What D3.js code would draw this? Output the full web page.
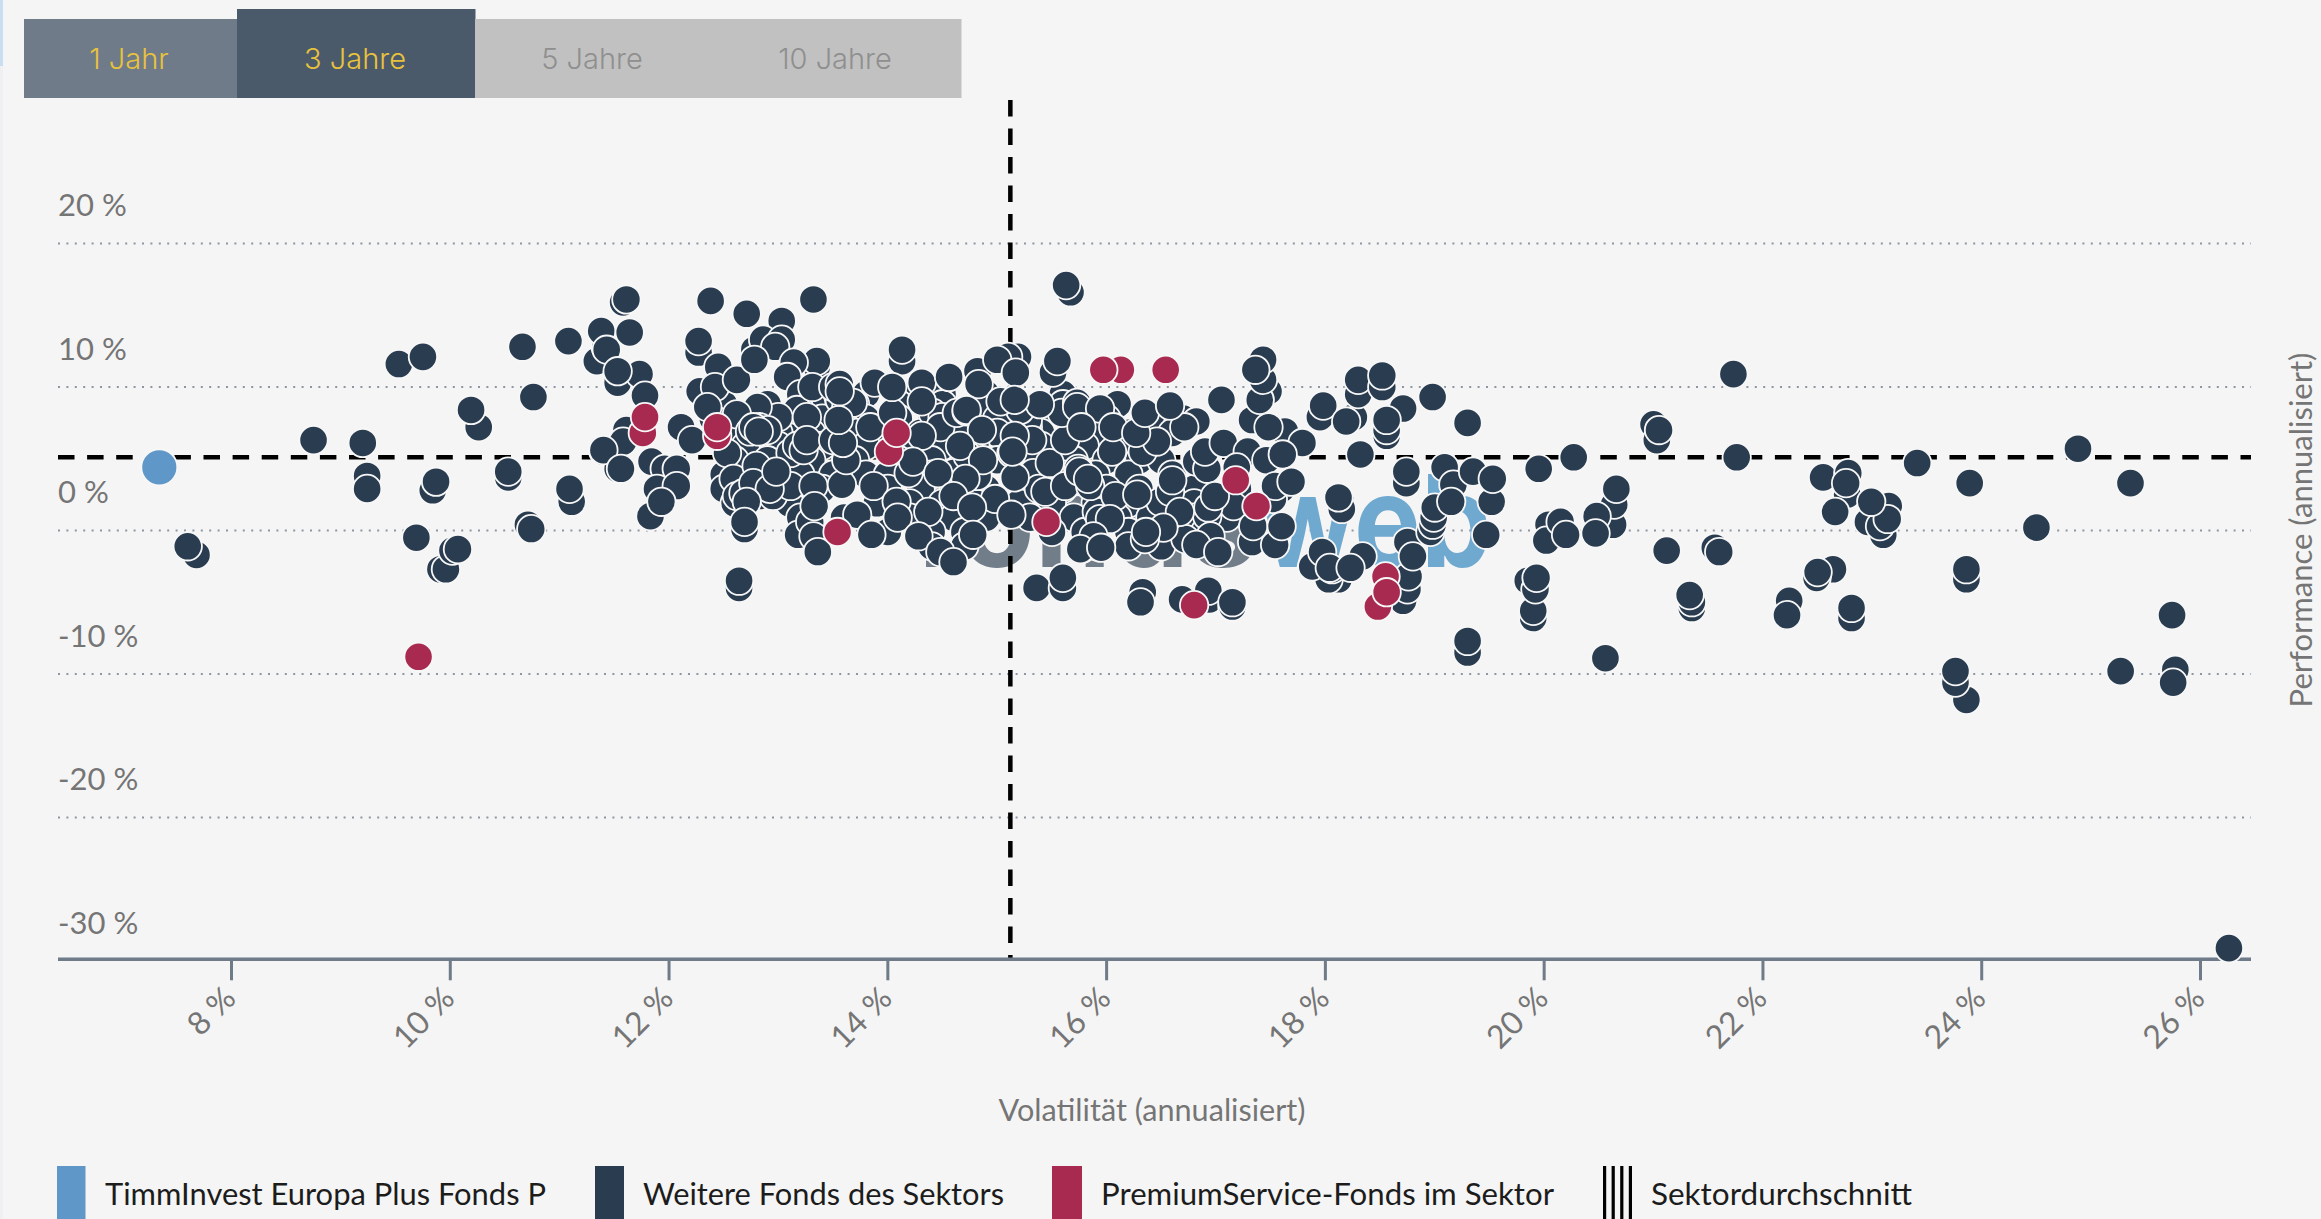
<!DOCTYPE html>
<html><head><meta charset="utf-8">
<script src="https://cdn.jsdelivr.net/npm/d3@7/dist/d3.min.js"></script>
<style>html,body{margin:0;padding:0;background:#f5f5f5;overflow:hidden}svg{display:block}</style>
</head><body>
<svg id="c" width="2321" height="1219"></svg>
<script>
const tabLabels = ["1 Jahr","3 Jahre","5 Jahre","10 Jahre"];
const yTicks = [20,10,0,-10,-20,-30];
const xTicks = [8,10,12,14,16,18,20,22,24,26];
const sectorVol = 15.12;
const sectorPerf = 5.1;
const legendLabels = ["TimmInvest Europa Plus Fonds P","Weitere Fonds des Sektors","PremiumService-Fonds im Sektor","Sektordurchschnitt"];
const thisFund = [[7.34,4.4]];
// funds hidden inside the dense centre of the cloud, drawn first
const denseFunds = [
[13.4,9.5],[13.8,9.5],[14.1,9.5],[14.5,9.5],[14.9,9.5],[15.6,9.5],
[12.5,8.8],[12.9,8.8],[13.3,8.8],[13.7,8.8],[14.1,8.8],[14.5,8.8],[14.9,8.8],[15.2,8.8],[15.6,8.8],[16.1,8.8],
[12.4,7.8],[12.8,7.8],[13.1,7.8],[13.4,7.8],[13.8,7.8],[14.1,7.8],[14.4,7.8],[14.7,7.8],[15.0,7.8],[15.4,7.8],[15.7,7.8],[16.0,7.8],[16.4,7.8],[16.7,7.8],
[12.6,6.8],[13.0,6.8],[13.3,6.8],[13.7,6.8],[14.0,6.8],[14.3,6.8],[14.7,6.8],[15.0,6.8],[15.4,6.8],[15.9,6.8],[16.2,6.8],[16.6,6.8],
[12.7,5.9],[13.0,5.9],[13.4,5.9],[13.8,5.9],[14.1,5.9],[14.5,5.9],[14.8,5.9],[15.4,5.9],[15.8,5.9],[16.1,5.9],[16.4,5.9],
[12.6,4.9],[12.9,4.9],[13.3,4.9],[13.7,4.9],[14.1,4.9],[14.4,4.9],[14.7,4.9],[15.0,4.9],[15.3,4.9],[15.7,4.9],[16.0,4.9],[16.3,4.9],[16.5,4.9],
[12.5,3.9],[12.9,3.9],[13.2,3.9],[13.5,3.9],[13.8,3.9],[14.0,3.9],[14.4,3.9],[14.8,3.9],[15.2,3.9],[15.6,3.9],[15.9,3.9],[16.2,3.9],[16.6,3.9],
[12.5,2.9],[13.0,2.9],[13.4,2.9],[14.0,2.9],[14.3,2.9],[14.6,2.9],[14.9,2.9],[15.3,2.9],[15.6,2.9],[16.0,2.9],[16.3,2.9],[16.8,2.9],[17.2,2.9],[17.6,2.9],
[12.6,1.9],[13.1,1.9],[13.9,1.9],[14.2,1.9],[14.5,1.9],[14.8,1.9],[15.2,1.9],[15.5,1.9],[15.9,1.9],[16.2,1.9],[16.5,1.9],[16.8,1.9],
[13.2,0.9],[13.6,0.9],[14.2,0.9],[14.6,0.9],[14.9,0.9],[15.3,0.9],[15.7,0.9],[16.1,0.9],[16.4,0.9],[16.8,0.9],[17.1,0.9],
[14.0,-0.1],[14.4,-0.1],[14.7,-0.1],[15.8,-0.1],[16.2,-0.1],[16.5,-0.1],[16.9,-0.1],
[14.4,-1.1],[14.7,-1.1],[16.2,-1.1],[16.5,-1.1]
];
const otherFunds = [
[7.68,-1.7],[7.60,-1.1],[8.75,6.3],[9.20,6.1],[9.24,3.8],[9.24,2.9],[9.53,11.6],[9.75,12.1],[9.69,-0.5],[9.84,2.8],[9.87,3.4],[9.91,-2.7],[9.96,-2.7],[10.02,-1.4],[10.07,-1.3],[10.26,7.2],[10.19,8.4],[10.53,3.7],[10.53,4.1],[10.66,12.8],[10.76,9.3],[10.71,0.4],[10.74,0.1],[11.11,2.0],[11.09,2.9],[11.08,13.2],[11.34,11.8],[11.42,12.8],[11.38,13.9],[11.53,10.4],[11.53,10.9],[11.40,5.5],[11.53,4.3],[11.58,15.9],
[11.61,16.1],[12.38,16.0],[13.32,16.1],[12.71,15.1],[13.03,14.6],[11.64,13.8],[11.43,12.6],[12.27,12.4],[12.27,13.2],[12.78,12.6],[12.86,13.3],[13.03,13.3],[12.97,12.8],[13.35,11.4],[13.35,11.8],[11.53,10.3],[11.73,10.9],[11.53,11.1],[11.78,9.4],[12.45,11.4],[12.28,9.7],[12.42,10.0],[12.62,10.5],[12.35,8.6],[13.14,11.7],[13.08,10.7],[12.78,11.9],[13.20,9.5],[13.17,8.4],[13.00,7.9],[12.81,8.6],[12.62,8.1],[12.11,7.2],[12.21,6.3],[11.61,7.0],[11.58,6.2],[11.40,5.6],[11.56,4.3],[11.84,4.8],[11.96,4.3],[12.07,4.3],[11.89,2.9],[12.07,3.1],[11.83,1.0],[11.93,2.0],[12.53,5.4],[12.83,7.2],[12.90,7.0],[13.26,7.9],
[12.74,6.9],[12.77,7.2],[12.82,6.9],[13.11,5.4],[13.17,5.9],[13.23,5.6],[13.26,6.3],[13.50,6.3],[13.56,9.1],[13.62,8.6],[13.68,8.9],[12.59,3.6],[12.62,2.4],[12.83,2.4],[12.95,2.4],[13.11,3.1],[14.41,8.2],[14.50,7.9],[14.48,7.2],[14.63,8.2],[14.72,8.3],[15.28,7.2],[15.28,7.7],[15.21,6.3],[15.32,6.3],[15.33,4.0],[15.38,2.9],[14.60,4.0],[14.82,3.8],
[12.68,2.6],[12.80,4.5],[12.77,3.3],[12.92,2.9],[12.98,4.1],[12.71,2.0],[12.69,0.1],[12.69,0.6],[12.64,-4.0],[12.64,-3.5],[13.32,3.1],[13.18,-0.3],[13.29,0.6],[13.32,-0.4],[13.36,-1.5],[13.33,1.7],[13.72,1.1],[13.58,3.2],[13.87,3.1],[13.62,4.9],[13.59,6.1],[13.55,7.7],[13.31,10.0],[13.50,10.0],[13.56,10.2],[13.56,9.7],[13.88,10.3],[13.84,7.2],[14.13,11.8],[14.13,12.6],[14.04,8.2],[14.04,10.0],[14.31,10.3],[14.56,10.7],[14.31,9.0],[14.31,6.6],[14.82,11.1],[14.83,10.2],[15.19,12.1],[15.10,12.1],[15.00,11.9],[15.17,11.0],[15.21,8.4],[15.03,9.0],[14.72,8.4],[14.86,7.0],[14.73,5.2],[14.66,5.9],[14.87,4.9],[15.16,6.6],[15.13,5.4],[15.16,3.7],[14.71,3.6],[14.19,4.0],[14.23,4.8],[14.46,4.0],[14.60,2.4],[14.98,2.2],[14.77,1.6],[14.37,1.3],[14.08,2.0],[14.09,0.9],[14.28,-0.4],[13.85,-0.3],[14.48,-1.5],[14.60,-2.2],[14.78,-0.3],[15.13,1.1],[15.50,-0.1],[15.44,2.7],[15.48,4.7],[15.62,3.1],[15.74,4.3],[15.62,6.3],[15.59,8.2],[15.39,8.8],[15.73,8.9],[15.51,11.0],[15.55,11.8],[15.67,16.6],[15.63,17.1],[15.36,-4.0],[15.60,-4.0],[15.60,-3.3],[15.77,-1.3],[15.91,-1.1],[15.91,1.3],[15.85,3.1],
[15.16,9.1],[15.14,5.5],[15.73,8.6],[15.94,8.5],[15.77,7.2],[15.75,4.1],[15.83,3.6],[16.05,5.5],[16.08,2.4],[16.06,7.2],[16.33,5.5],[16.46,6.2],[16.27,6.8],[16.35,8.2],[16.82,7.6],[16.71,7.2],[16.58,8.7],[17.05,9.1],[16.82,4.8],[16.92,4.3],[16.90,5.5],[17.07,6.1],[17.29,5.5],[17.33,7.7],[17.63,6.9],[17.48,7.2],[17.79,6.1],[17.46,4.9],[17.61,5.3],[17.52,2.2],[17.54,3.1],[17.69,3.4],[17.19,4.4],[17.16,1.7],[17.33,-0.8],[17.54,-1.0],[17.34,0.3],[17.60,0.3],[16.92,1.0],[16.93,1.6],[16.99,2.4],[16.95,-0.4],[16.72,-0.6],[16.82,-1.0],[17.02,-1.5],[16.49,2.0],[16.58,2.7],[16.60,3.5],[16.67,1.3],[16.28,2.5],[16.52,0.2],[16.35,-0.6],[16.36,-0.1],[15.94,0.8],[16.03,0.8],[15.88,-0.4],[15.76,-1.3],[15.95,-1.2],[16.33,-4.3],[16.31,-5.0],[16.94,-4.8],[16.93,-4.2],[16.69,-4.8],[17.15,-5.3],[17.15,-5.0],
[18.12,-3.4],[18.03,-3.4],[17.88,-2.5],[17.97,-1.5],[18.06,-2.7],[18.04,-2.6],[18.34,-1.8],[18.23,-2.6],[18.71,-4.9],[18.75,-4.1],[18.76,-3.2],[18.75,-0.8],[18.80,-1.8],[17.48,9.7],[17.40,9.1],[17.43,10.5],[17.43,11.9],[17.36,11.2],[17.95,7.9],[17.98,8.7],[18.26,7.9],[18.19,7.6],[18.30,9.5],[18.30,10.5],[18.52,10.0],[18.52,10.8],[18.71,8.5],[18.98,9.3],[19.30,7.5],[18.56,6.6],[18.56,7.0],[18.56,7.7],[18.32,5.3],[18.15,1.5],[18.12,2.3],[18.74,3.3],[18.74,4.1],
[19.09,4.4],[19.17,3.2],[19.35,4.1],[19.52,2.0],[19.53,3.6],[18.96,-0.1],[18.98,0.4],[18.99,0.9],[19.00,1.6],[19.15,2.0],[19.47,-0.3],[19.95,4.3],[20.27,5.1],[21.00,7.4],[21.03,6.3],[21.05,7.0],[21.73,10.9],[21.76,5.1],[20.63,0.4],[20.64,1.8],[20.66,2.9],[20.48,1.0],[20.47,-0.2],[20.04,0.4],[20.02,-0.7],[20.15,0.6],[20.20,-0.3],[21.12,-1.4],[21.56,-1.2],[21.60,-1.5],[19.85,-3.5],[19.90,-6.1],[19.90,-5.6],[19.92,-4.1],[19.93,-3.3],[21.35,-5.4],[21.35,-5.0],[21.33,-4.5],[22.24,-4.9],[22.22,-5.9],[22.64,-2.7],[22.49,-3.3],[22.50,-2.9],[22.81,-6.1],[22.81,-5.4],[19.30,-8.5],[19.30,-7.7],[20.56,-8.9],[22.55,3.7],[22.77,2.5],[22.78,4.0],[22.76,3.3],[22.66,1.3],[22.96,0.6],[23.10,-0.3],[23.07,0.3],[23.15,1.7],[23.14,0.8],[22.99,2.0],
[23.41,4.7],[24.88,5.7],[23.89,3.3],[25.36,3.3],[24.50,0.2],[23.86,-3.4],[23.86,-2.7],[25.74,-5.9],[23.86,-11.8],[23.76,-10.6],[23.76,-9.8],[25.27,-9.8],[25.77,-9.7],[25.75,-10.6],[26.26,-29.1]
];
const premiumFunds = [
[9.71,-8.8],[11.76,6.8],[11.78,7.9],[12.44,6.6],[12.44,7.2],[14.01,5.5],[14.08,6.8],[13.54,-0.1],[15.45,0.6],[16.13,11.2],[15.97,11.2],[16.54,11.2],[17.18,3.5],[17.37,1.7],[16.80,-5.2],[18.48,-5.3],[18.55,-3.2],[18.56,-4.3]
];

const C = {bg:"#f5f5f5",dark:"#2a3c50",red:"#a92a50",blue:"#5f97c8",grey:"#757575",grid:"#8d97a3",axis:"#6f7b88",gold:"#e9c23c"};
const svg = d3.select("#c");
const x = d3.scaleLinear().domain([8,26]).range([231.5,2200.5]);
const y = d3.scaleLinear().domain([-30,20]).range([961,243.5]);
const L = 58, R = 2251;

svg.append("rect").attr("width",2321).attr("height",1219).attr("fill",C.bg);
svg.append("rect").attr("width",3).attr("height",66).attr("fill","#c7dff0");
svg.append("rect").attr("y",66).attr("width",3).attr("height",1153).attr("fill","#eef0f2");

// tabs
const tabs = [{x0:24,x1:237,y0:19,f:"#6f7b88",c:C.gold,tx:129},{x0:237,x1:475,y0:9,f:"#4b5a6b",c:C.gold,tx:355},{x0:475,x1:720,y0:19,f:"#c1c1c1",c:"#8f8f8f",tx:592},{x0:720,x1:961,y0:19,f:"#c1c1c1",c:"#8f8f8f",tx:835}];
const gt = svg.append("g");
gt.selectAll("rect").data(tabs).join("rect").attr("x",d=>d.x0).attr("y",d=>d.y0).attr("width",d=>d.x1-d.x0+0.5).attr("height",d=>98-d.y0).attr("fill",d=>d.f);
gt.selectAll("text").data(tabs).join("text").attr("x",d=>d.tx).attr("y",69).attr("text-anchor","middle").attr("fill",d=>d.c)
  .attr("font-family","Inter").attr("font-weight",300).attr("font-size",29).text((d,i)=>tabLabels[i]);

// grid
svg.append("g").selectAll("line").data(yTicks.filter(t=>t>-30)).join("line").attr("x1",L).attr("x2",R)
  .attr("y1",d=>y(d)).attr("y2",d=>y(d)).attr("stroke",C.grid).attr("stroke-width",2).attr("stroke-dasharray","2 6.4");
svg.append("g").selectAll("text").data(yTicks).join("text").attr("x",L).attr("y",d=>y(d)-27.5)
  .attr("fill",C.grey).attr("font-family","Lato").attr("font-size",31).text(d=>d+" %");

// watermark
const wm = svg.append("g").attr("font-family","Inter").attr("font-weight",700).attr("font-size",128);
wm.append("text").attr("x",913).attr("y",566.7).attr("fill","#727d8a").attr("textLength",345).attr("lengthAdjust","spacingAndGlyphs").text("fonds");
wm.append("text").attr("x",1260).attr("y",566.7).attr("fill","#70a9d0").attr("textLength",232).attr("lengthAdjust","spacingAndGlyphs").text("web");

// sector lines
svg.append("line").attr("x1",L).attr("x2",R).attr("y1",y(sectorPerf)).attr("y2",y(sectorPerf)).attr("stroke","#000").attr("stroke-width",4.5).attr("stroke-dasharray","16.5 12.6");
svg.append("line").attr("x1",x(sectorVol)).attr("x2",x(sectorVol)).attr("y1",100).attr("y2",959).attr("stroke","#000").attr("stroke-width",4.5).attr("stroke-dasharray","16.5 12");

// axis
const axG = svg.append("g").attr("transform",`translate(0,${y(-30)-1.7})`);
axG.append("line").attr("x1",L).attr("x2",R).attr("stroke",C.axis).attr("stroke-width",3.5);
const tk = axG.selectAll("g").data(xTicks).join("g").attr("transform",d=>`translate(${x(d)},0)`);
tk.append("line").attr("y1",0).attr("y2",21).attr("stroke",C.axis).attr("stroke-width",3);
tk.append("text").attr("transform","translate(-8,27) rotate(-45)").attr("text-anchor","end").attr("dy","0.62em").attr("x",0)
  .attr("fill",C.grey).attr("font-family","Lato").attr("font-size",32).text(d=>d+" %");

svg.append("text").attr("x",1152).attr("y",1121).attr("text-anchor","middle").attr("fill",C.grey).attr("font-family","Lato").attr("font-size",30.6).text("Volatilität (annualisiert)");
svg.append("text").attr("transform","translate(2312,530) rotate(-90)").attr("text-anchor","middle").attr("fill",C.grey).attr("font-family","Lato").attr("font-size",31).text("Performance (annualisiert)");

// dots
function dots(data,fill,r){
  svg.append("g").selectAll("circle").data(data).join("circle")
    .attr("cx",d=>x(d[0])).attr("cy",d=>y(d[1])).attr("r",r).attr("fill",fill).attr("stroke","#f7f7f7").attr("stroke-width",1.8);
}
dots(denseFunds,C.dark,14.2);
dots(otherFunds,C.dark,14.2);
dots(premiumFunds,C.red,14.2);
dots(thisFund,C.blue,18);

// legend
const lg = [{a:57,b:85.5,t:105,c:C.blue,w:441},{a:595,b:624,t:643,c:C.dark,w:361},{a:1052,b:1082,t:1101,c:C.red,w:453},{a:1603,b:1632,t:1651,c:null,w:261}];
const gl = svg.append("g");
lg.forEach((d,i)=>{
  if(d.c) gl.append("rect").attr("x",d.a).attr("y",1166).attr("width",d.b-d.a).attr("height",53).attr("fill",d.c);
  else d3.range(4).forEach(k=>gl.append("rect").attr("x",d.a+k*8.6).attr("y",1166).attr("width",3.2).attr("height",53).attr("fill","#000"));
  gl.append("text").attr("x",d.t).attr("y",1205).attr("fill","#1c1c1c").attr("font-family","Lato").attr("font-size",31).attr("textLength",d.w).attr("lengthAdjust","spacingAndGlyphs").text(legendLabels[i]);
});
</script>
</body></html>
